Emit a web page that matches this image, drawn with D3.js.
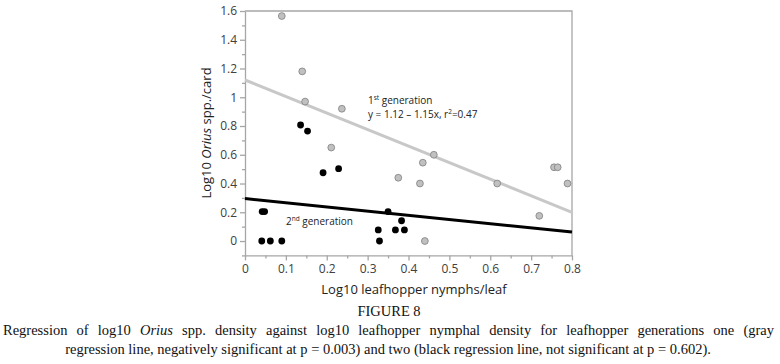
<!DOCTYPE html>
<html>
<head>
<meta charset="utf-8">
<script src="https://cdn.jsdelivr.net/npm/d3@7"></script>
<style>
  body { margin: 0; background: #fff; }
  svg { display: block; }
</style>
</head>
<body>
<div id="container"></div>
<script>

// 1 - VARIABLES - size of the page and of the plot box

const width = 780;
const height = 364;
const plot = { left: 245, right: 572, top: 11, bottom: 255.4 };

// 2 - DATA

// first leafhopper generation (gray dots)
const gen1X = [0.09, 0.14, 0.147, 0.237, 0.211, 0.375, 0.428, 0.435, 0.462, 0.44, 0.617, 0.72, 0.756, 0.765, 0.789];
const gen1Y = [1.565, 1.18, 0.97, 0.92, 0.65, 0.44, 0.40, 0.545, 0.60, 0.0, 0.40, 0.175, 0.513, 0.513, 0.40];

// second leafhopper generation (black dots)
const gen2X = [0.042, 0.048, 0.041, 0.062, 0.09, 0.136, 0.153, 0.191, 0.229, 0.326, 0.329, 0.35, 0.368, 0.383, 0.39];
const gen2Y = [0.205, 0.205, 0, 0, 0, 0.807, 0.765, 0.475, 0.503, 0.077, 0, 0.205, 0.077, 0.141, 0.077];

// regression lines: intercept and slope
const gen1Fit = [1.12, -1.15];
const gen2Fit = [0.295, -0.29];

// axis ticks
const xTicks = [0, 0.1, 0.2, 0.3, 0.4, 0.5, 0.6, 0.7, 0.8];
const xMinor = [0.05, 0.15, 0.25, 0.35, 0.45, 0.55, 0.65, 0.75];
const yTicks = [0, 0.2, 0.4, 0.6, 0.8, 1, 1.2, 1.4, 1.6];
const yMinor = [-0.1, 0.1, 0.3, 0.5, 0.7, 0.9, 1.1, 1.3, 1.5];

const caption1 = ["Regression of log10 ", "Orius", " spp. density against log10 leafhopper nymphal density for leafhopper generations one (gray"];
const caption2 = "regression line, negatively significant at p = 0.003) and two (black regression line, not significant at p = 0.602).";

// 3 - SCALES

const xScale = d3.scaleLinear()
  .domain([0, 0.8])
  .range([plot.left, plot.right]);

const yScale = d3.scaleLinear()
  .domain([-0.1, 1.6])
  .range([plot.bottom, plot.top]);

const fmt = d => String(+d.toFixed(1));

// 4 - ELEMENTS

const svg = d3.select("#container")
  .append("svg")
  .attr("width", width)
  .attr("height", height);

const axisColor = "#a6a6a6";
const sans = "'Open Sans', 'Liberation Sans', sans-serif";

// frame on top and right
svg.append("path")
  .attr("d", `M${plot.left},${plot.top}H${plot.right}V${plot.bottom}`)
  .attr("fill", "none")
  .attr("stroke", axisColor)
  .attr("stroke-width", 1.3);

// x axis
const xAxis = svg.append("g")
  .attr("transform", `translate(0,${plot.bottom})`)
  .call(d3.axisBottom(xScale).tickValues(xTicks).tickFormat(fmt).tickSize(5).tickSizeOuter(0));

svg.append("g")
  .attr("transform", `translate(0,${plot.bottom})`)
  .call(d3.axisBottom(xScale).tickValues(xMinor).tickFormat("").tickSize(3).tickSizeOuter(0))
  .call(g => g.select(".domain").remove());

// y axis
const yAxis = svg.append("g")
  .attr("transform", `translate(${plot.left},0)`)
  .call(d3.axisLeft(yScale).tickValues(yTicks).tickFormat(fmt).tickSize(5).tickSizeOuter(0));

svg.append("g")
  .attr("transform", `translate(${plot.left},0)`)
  .call(d3.axisLeft(yScale).tickValues(yMinor).tickFormat("").tickSize(3).tickSizeOuter(0))
  .call(g => g.select(".domain").remove());

svg.selectAll(".domain, .tick line")
  .attr("stroke", axisColor)
  .attr("stroke-width", 1.3);

svg.selectAll(".tick text")
  .attr("fill", "#404040")
  .attr("font-family", sans)
  .attr("font-size", 12);

xAxis.selectAll(".tick text").attr("y", 6).attr("dy", "1em");
yAxis.selectAll(".tick text").attr("x", -8);

// axis titles
svg.append("text")
  .attr("x", 414)
  .attr("y", 293.5)
  .attr("text-anchor", "middle")
  .attr("font-family", sans)
  .attr("font-size", 13)
  .attr("fill", "#222")
  .text("Log10 leafhopper nymphs/leaf");

const yTitle = svg.append("text")
  .attr("transform", "translate(211,133) rotate(-90)")
  .attr("text-anchor", "middle")
  .attr("font-family", sans)
  .attr("font-size", 13)
  .attr("fill", "#222");
yTitle.append("tspan").text("Log10 ");
yTitle.append("tspan").attr("font-style", "italic").text("Orius");
yTitle.append("tspan").text(" spp./card");

// 5 - REGRESSION LINES

const fitLine = d3.line()
  .x(d => xScale(d.x))
  .y(d => yScale(d.y));

const fitPoints = f => [0, 0.8].map(x => ({ x: x, y: f[0] + f[1] * x }));

svg.append("path")
  .datum(fitPoints(gen1Fit))
  .attr("d", fitLine)
  .attr("stroke", "#c8c8c8")
  .attr("stroke-width", 3)
  .attr("fill", "none");

svg.append("path")
  .datum(fitPoints(gen2Fit))
  .attr("d", fitLine)
  .attr("stroke", "#000")
  .attr("stroke-width", 3)
  .attr("fill", "none");

// 6 - DOTS

const gen1 = gen1X.map((x, i) => ({ x: x, y: gen1Y[i] }));
const gen2 = gen2X.map((x, i) => ({ x: x, y: gen2Y[i] }));

svg.selectAll("circle.gen1")
  .data(gen1)
  .join("circle")
  .attr("class", "gen1")
  .attr("cx", d => xScale(d.x))
  .attr("cy", d => yScale(d.y))
  .attr("r", 3.4)
  .attr("fill", "#c0c0c0")
  .attr("stroke", "#7f7f7f")
  .attr("stroke-width", 0.8);

svg.selectAll("circle.gen2")
  .data(gen2)
  .join("circle")
  .attr("class", "gen2")
  .attr("cx", d => xScale(d.x))
  .attr("cy", d => yScale(d.y))
  .attr("r", 3.4)
  .attr("fill", "#000");

// 7 - ANNOTATIONS

const note = (x, y, base, sup, rest) => {
  const t = svg.append("text")
    .attr("x", x)
    .attr("y", y)
    .attr("font-family", sans)
    .attr("font-size", 10)
    .attr("fill", "#222");
  t.append("tspan").text(base);
  t.append("tspan").attr("font-size", 6.5).attr("dy", -4).text(sup);
  t.append("tspan").attr("dy", 4).text(rest);
  return t;
};

note(368, 104, "1", "st", " generation");
note(368, 118, "y = 1.12 \u2013 1.15x, r", "2", "=0.47");
note(286, 225, "2", "nd", " generation");

// 8 - CAPTION

const serif = "'Liberation Serif', 'Times New Roman', serif";

svg.append("text")
  .attr("x", 389)
  .attr("y", 316)
  .attr("text-anchor", "middle")
  .attr("font-family", serif)
  .attr("font-size", 14.5)
  .attr("fill", "#111")
  .text("FIGURE 8");

const cap1 = svg.append("text")
  .attr("x", 3)
  .attr("y", 335)
  .attr("font-family", serif)
  .attr("font-size", 14.5)
  .attr("fill", "#111");
cap1.selectAll("tspan")
  .data(caption1)
  .join("tspan")
  .attr("font-style", (d, i) => i === 1 ? "italic" : null)
  .text(d => d);

// justify the first line by spreading the spaces
const natural = cap1.node().getComputedTextLength();
const spaces = caption1.join("").split(" ").length - 1;
cap1.attr("word-spacing", (771 - natural) / spaces);

svg.append("text")
  .attr("x", 388)
  .attr("y", 354)
  .attr("text-anchor", "middle")
  .attr("font-family", serif)
  .attr("font-size", 14.5)
  .attr("fill", "#111")
  .text(caption2);

</script>
</body>
</html>
